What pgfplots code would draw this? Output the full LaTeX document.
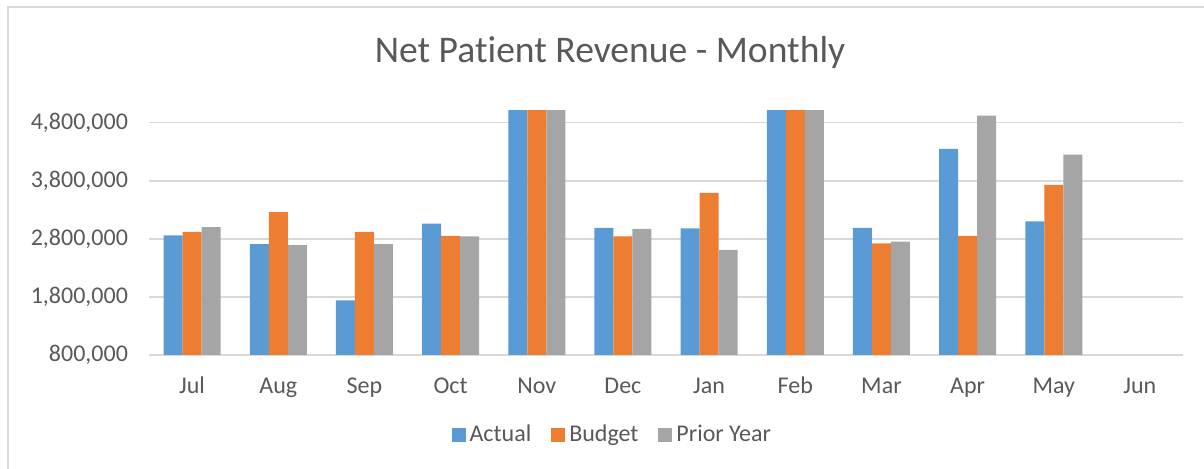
\documentclass[border=0pt]{standalone}
\usepackage{pgfplots}
\pgfplotsset{compat=1.18}
\usepackage{fontspec}
\setmainfont{Carlito}[RawFeature={-liga}]
\definecolor{cA}{HTML}{5B9BD5}
\definecolor{cB}{HTML}{ED7D31}
\definecolor{cC}{HTML}{A5A5A5}
\definecolor{grd}{HTML}{D9D9D9}
\definecolor{txt}{HTML}{595959}
\pgfplotstableread{
x actual budget prior
0 2860000 2920000 3000000
1 2710000 3260000 2690000
2 1740000 2920000 2710000
3 3060000 2850000 2840000
4 5400000 5400000 5400000
5 2990000 2840000 2970000
6 2980000 3590000 2610000
7 5400000 5400000 5400000
8 2990000 2720000 2750000
9 4350000 2850000 4920000
10 3100000 3730000 4250000
}\datatable
\begin{document}
\begin{tikzpicture}
\useasboundingbox (0pt,0pt) rectangle (602pt,234.5pt);
\draw[grd, line width=1pt] (3.75pt,0pt) -- (3.75pt,230.75pt) -- (602pt,230.75pt);
\node[txt, font=\fontsize{18.8}{22}\selectfont] at (305pt,208.5pt) {Net Patient Revenue - Monthly};
\begin{axis}[
  at={(74.5pt,57pt)}, anchor=south west,
  scale only axis, width=517pt, height=122pt,
  xmin=-0.5, xmax=11.5, ymin=800000, ymax=5000000,
  ytick={800000,1800000,2800000,3800000,4800000},
  xtick={0,...,11},
  xticklabels={Jul,Aug,Sep,Oct,Nov,Dec,Jan,Feb,Mar,Apr,May,Jun},
  scaled y ticks=false,
  /pgf/number format/.cd, fixed, 1000 sep={,}, assume math mode=true,
  /pgfplots/.cd,
  major tick length=0pt,
  axis line style={draw=none},
  ymajorgrids, grid style={grd, line width=0.8pt},
  tick label style={txt, font=\fontsize{12}{14}\selectfont},
  yticklabel style={xshift=-7pt},
  xticklabel style={anchor=north, text height=1.6ex, text depth=0.4ex, yshift=-8pt},
  ybar=0pt, bar width=9.5pt,
  legend style={draw=none, legend columns=-1, at={(0.449,-0.326)}, anchor=center,
    font=\fontsize{12}{14}\selectfont, text=txt,
    /tikz/every even column/.append style={column sep=8pt}},
  legend image code/.code={\fill[#1] (0pt,-3.5pt) rectangle (7pt,3.5pt);},
]
\addplot[fill=cA, draw=none] table[x=x, y=actual] {\datatable};
\addplot[fill=cB, draw=none] table[x=x, y=budget] {\datatable};
\addplot[fill=cC, draw=none] table[x=x, y=prior] {\datatable};
\legend{Actual, Budget, Prior Year}
\end{axis}
\end{tikzpicture}
\end{document}
